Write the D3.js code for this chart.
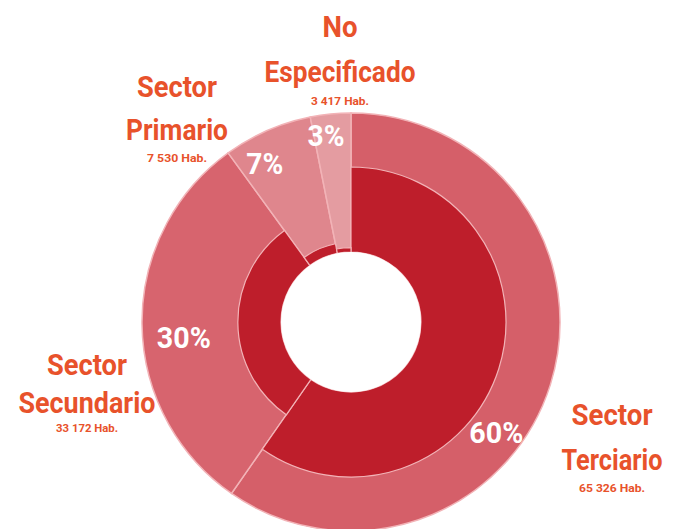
<!DOCTYPE html>
<html>
<head>
<meta charset="utf-8">
<script src="https://cdn.jsdelivr.net/npm/d3@7"></script>
<style>
  body { margin: 0; background: #fff; }
  text { font-family: Roboto, "Liberation Sans", sans-serif; font-weight: 700; }
</style>
</head>
<body>
<div id="chart"></div>
<script>
// Population by economic sector

// Data
var sectors = ["Sector Terciario", "Sector Secundario", "Sector Primario", "No Especificado"];
var habitants = [65326, 33172, 7530, 3417];
var percentLabels = ["60%", "30%", "7%", "3%"];
var habLabels = ["65 326 Hab.", "33 172 Hab.", "7 530 Hab.", "3 417 Hab."];

// Page setup
var width = 678;
var height = 529;
var cx = 351;
var cy = 322;

var rHole = 70;
var rOuter = 209;
var rDarkMax = 155;

var svg = d3
  .select("#chart")
  .append("svg")
  .attr("width", width)
  .attr("height", height);

var g = svg.append("g").attr("transform", "translate(" + cx + "," + cy + ")");

var rows = sectors.map(function(s, i) {
  return { name: s, value: habitants[i], pct: percentLabels[i], hab: habLabels[i], i: i };
});

var pie = d3.pie().sort(null).value(function(d) { return d.value; });
var slices = pie(rows);

// outer ring colours, lighter for the small slices
var outerColor = ["#d55f69", "#d7646e", "#df868d", "#e49ca1"];
var darkColor = "#be1e2b";
var lineColor = "#f2b3b7";

// dark ring thickness grows with the value
var darkScale = d3
  .scaleLinear()
  .domain([0, d3.max(habitants)])
  .range([rHole, rDarkMax]);

var outerArc = d3.arc().innerRadius(rHole).outerRadius(rOuter);

g.selectAll("path.outer")
  .data(slices)
  .enter()
  .append("path")
  .attr("class", "outer")
  .attr("d", outerArc)
  .attr("fill", function(d) { return outerColor[d.data.i]; })
  .attr("stroke", lineColor)
  .attr("stroke-width", 1.5);

g.selectAll("path.dark")
  .data(slices)
  .enter()
  .append("path")
  .attr("class", "dark")
  .attr("d", function(d) {
    return d3.arc().innerRadius(rHole).outerRadius(darkScale(d.data.value))(d);
  })
  .attr("fill", darkColor)
  .attr("stroke", lineColor)
  .attr("stroke-width", 1.2);

// white hole
g.append("circle").attr("r", rHole).attr("fill", "#fff");

// draw a text scaled horizontally to a given width (condensed look)
function squeezed(parent, str, x, y, size, w, color) {
  var t = parent.append("text")
    .attr("text-anchor", "middle")
    .attr("font-size", size)
    .attr("fill", color)
    .text(str);
  var natural = t.node().getComputedTextLength();
  var sx = w / natural;
  t.attr("x", x / sx)
    .attr("y", y)
    .attr("transform", "scale(" + sx + ",1)");
  return t;
}

// percentage labels on the outer ring
var labelRadius = [183, 168, 180, 188];
var labelShift = [20, -5, -5, -2]; // degrees away from the slice middle
slices.forEach(function(d) {
  var a = (d.startAngle + d.endAngle) / 2 + labelShift[d.data.i] * Math.PI / 180;
  var r = labelRadius[d.data.i];
  squeezed(g, d.data.pct, Math.sin(a) * r, -Math.cos(a) * r + 10, 29,
    d.data.pct.length === 3 ? 54 : 37, "#fff");
});

// category labels outside the ring
var nameLayout = [
  { x: 612, lines: [425, 470], w: [81, 101], hab: 492, hw: 66 },
  { x: 87, lines: [375, 413], w: [80, 137], hab: 432, hw: 62 },
  { x: 177, lines: [97, 140], w: [80, 102], hab: 162, hw: 60 },
  { x: 340, lines: [37, 82], w: [35, 151], hab: 105, hw: 58 }
];
var nameColor = "#e8522b";

rows.forEach(function(d) {
  var L = nameLayout[d.i];
  var words = d.name.split(" ");
  words.forEach(function(w, k) {
    squeezed(svg, w, L.x, L.lines[k], 30, L.w[k], nameColor);
  });
  squeezed(svg, d.hab, L.x, L.hab, 11, L.hw, nameColor);
});
</script>
</body>
</html>
